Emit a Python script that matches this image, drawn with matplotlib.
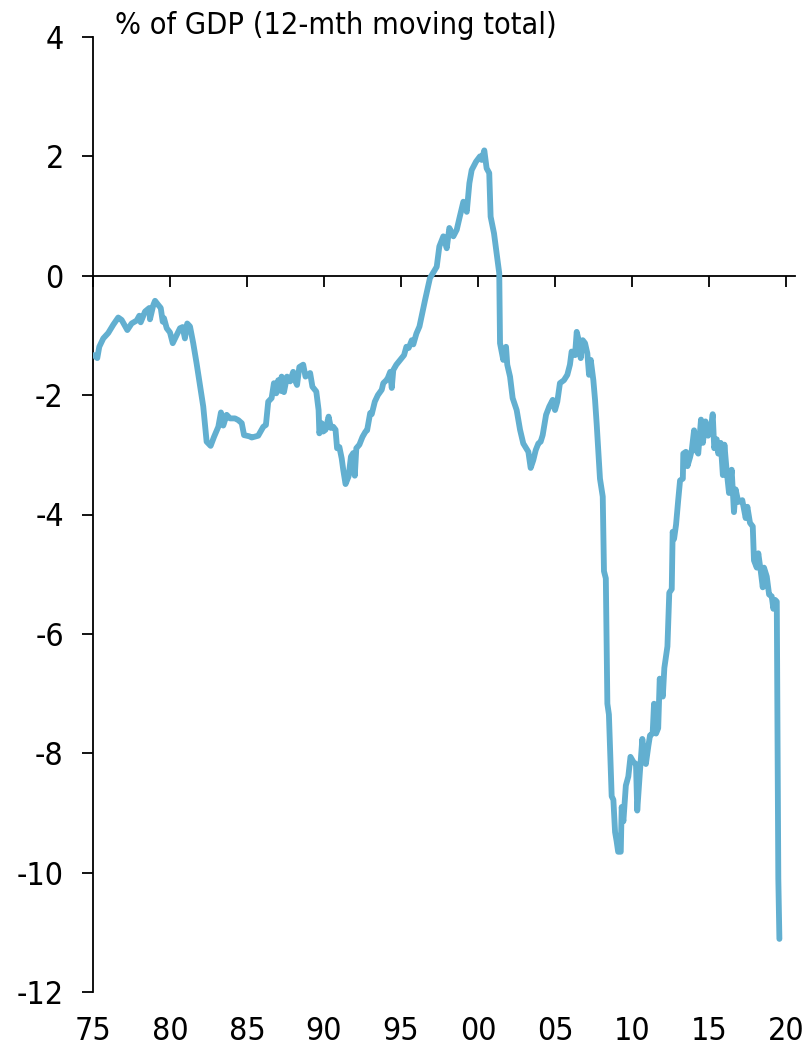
import matplotlib
matplotlib.use("Agg")
import matplotlib.pyplot as plt
import numpy as np

plt.rcParams['font.family'] = ['DejaVu Sans']
plt.rcParams['font.stretch'] = 'condensed'

# budget balance, % of GDP (12-mth moving total)
years = [
    1975.06, 1975.28, 1975.41, 1975.67, 1975.99, 1976.32, 1976.64, 1976.86, 1977.23, 1977.51,
    1977.84, 1978.01, 1978.10, 1978.38, 1978.66, 1978.70, 1978.92, 1979.03, 1979.24, 1979.40,
    1979.53, 1979.61, 1979.79, 1980.00, 1980.18, 1980.39, 1980.65, 1980.82, 1980.97, 1981.12,
    1981.30, 1981.51, 1981.73, 1981.99, 1982.16, 1982.38, 1982.64, 1982.86, 1983.14, 1983.31,
    1983.46, 1983.68, 1983.90, 1984.22, 1984.44, 1984.66, 1984.81, 1985.15, 1985.31, 1985.73,
    1986.06, 1986.23, 1986.38, 1986.60, 1986.75, 1986.90, 1987.03, 1987.20, 1987.25, 1987.40,
    1987.60, 1987.80, 1988.00, 1988.10, 1988.25, 1988.40, 1988.65, 1988.80, 1989.10, 1989.25,
    1989.50, 1989.65, 1989.70, 1989.85, 1989.95, 1990.10, 1990.30, 1990.45, 1990.60, 1990.75,
    1990.85, 1991.00, 1991.15, 1991.25, 1991.40, 1991.60, 1991.75, 1991.90, 1992.00, 1992.10,
    1992.30, 1992.50, 1992.70, 1992.80, 1993.00, 1993.10, 1993.30, 1993.50, 1993.75, 1993.85,
    1994.05, 1994.15, 1994.30, 1994.40, 1994.50, 1994.70, 1994.95, 1995.20, 1995.35, 1995.50,
    1995.70, 1995.80, 1996.00, 1996.20, 1996.56, 1996.88, 1997.32, 1997.49, 1997.75, 1997.97,
    1998.14, 1998.40, 1998.62, 1998.79, 1999.05, 1999.27, 1999.44, 1999.59, 1999.87, 2000.13,
    2000.24, 2000.41, 2000.56, 2000.73, 2000.82, 2001.04, 2001.21, 2001.38, 2001.43, 2001.64,
    2001.82, 2001.90, 2002.08, 2002.25, 2002.51, 2002.73, 2002.94, 2003.27, 2003.42, 2003.59,
    2003.75, 2003.92, 2004.07, 2004.20, 2004.42, 2004.63, 2004.85, 2005.00, 2005.15, 2005.32,
    2005.58, 2005.80, 2005.97, 2006.08, 2006.30, 2006.41, 2006.51, 2006.67, 2006.80, 2006.95,
    2007.10, 2007.21, 2007.32, 2007.49, 2007.60, 2007.71, 2007.92, 2008.10, 2008.18, 2008.30,
    2008.40, 2008.50, 2008.68, 2008.79, 2008.90, 2009.00, 2009.10, 2009.27, 2009.33, 2009.44,
    2009.60, 2009.76, 2009.90, 2010.10, 2010.26, 2010.34, 2010.50, 2010.67, 2010.80, 2010.90,
    2011.06, 2011.17, 2011.34, 2011.43, 2011.56, 2011.70, 2011.80, 2012.00, 2012.10, 2012.30,
    2012.42, 2012.58, 2012.64, 2012.73, 2012.86, 2013.00, 2013.12, 2013.30, 2013.33, 2013.50,
    2013.60, 2013.77, 2013.88, 2014.03, 2014.16, 2014.30, 2014.48, 2014.60, 2014.77, 2014.94,
    2015.10, 2015.24, 2015.34, 2015.50, 2015.60, 2015.76, 2015.90, 2016.00, 2016.15, 2016.30,
    2016.47, 2016.62, 2016.73, 2016.90, 2017.16, 2017.38, 2017.49, 2017.66, 2017.84, 2017.92,
    2018.10, 2018.20, 2018.36, 2018.49, 2018.57, 2018.75, 2018.90, 2019.07, 2019.18, 2019.29,
    2019.40, 2019.50, 2019.57,
]
balance = [
    -1.33, -1.38, -1.19, -1.05, -0.96, -0.82, -0.70, -0.74, -0.91, -0.80,
    -0.75, -0.67, -0.78, -0.60, -0.54, -0.73, -0.49, -0.42, -0.49, -0.54,
    -0.77, -0.71, -0.88, -0.95, -1.13, -1.02, -0.88, -0.86, -1.05, -0.80,
    -0.85, -1.13, -1.47, -1.91, -2.19, -2.78, -2.85, -2.70, -2.53, -2.29,
    -2.51, -2.33, -2.39, -2.39, -2.42, -2.47, -2.67, -2.69, -2.71, -2.68,
    -2.53, -2.50, -2.11, -2.05, -1.80, -1.97, -1.75, -1.93, -1.69, -1.95,
    -1.69, -1.77, -1.61, -1.74, -1.83, -1.53, -1.49, -1.69, -1.63, -1.86,
    -1.94, -2.25, -2.64, -2.47, -2.61, -2.58, -2.36, -2.55, -2.53, -2.58,
    -2.89, -2.87, -3.06, -3.25, -3.49, -3.36, -3.03, -2.97, -3.35, -2.89,
    -2.83, -2.70, -2.61, -2.59, -2.30, -2.32, -2.11, -2.00, -1.91, -1.80,
    -1.75, -1.71, -1.61, -1.88, -1.58, -1.49, -1.41, -1.33, -1.19, -1.21,
    -1.08, -1.15, -0.97, -0.85, -0.41, -0.04, 0.15, 0.49, 0.66, 0.46,
    0.80, 0.66, 0.77, 0.96, 1.24, 1.07, 1.55, 1.77, 1.91, 2.00,
    1.94, 2.10, 1.80, 1.72, 0.99, 0.71, 0.38, 0.04, -1.13, -1.41,
    -1.19, -1.49, -1.69, -2.05, -2.25, -2.58, -2.81, -2.95, -3.22, -3.09,
    -2.92, -2.81, -2.78, -2.67, -2.33, -2.19, -2.08, -2.25, -2.11, -1.80,
    -1.75, -1.66, -1.49, -1.27, -1.33, -0.94, -1.05, -1.38, -1.08, -1.13,
    -1.30, -1.66, -1.41, -1.75, -2.08, -2.50, -3.40, -3.70, -4.95, -5.07,
    -7.17, -7.35, -8.72, -8.78, -9.32, -9.47, -9.65, -9.65, -8.90, -9.14,
    -8.54, -8.39, -8.06, -8.15, -8.18, -8.96, -8.36, -7.76, -8.06, -8.18,
    -7.88, -7.70, -7.67, -7.17, -7.67, -7.58, -6.75, -7.05, -6.57, -6.21,
    -5.31, -5.25, -4.29, -4.41, -4.17, -3.76, -3.43, -3.40, -2.98, -2.95,
    -3.19, -3.04, -2.92, -2.59, -2.92, -2.98, -2.41, -2.80, -2.44, -2.68,
    -2.59, -2.32, -2.89, -2.74, -2.98, -2.80, -3.34, -2.83, -3.28, -3.64,
    -3.25, -3.96, -3.58, -3.79, -3.76, -4.06, -3.87, -4.14, -4.20, -4.77,
    -4.89, -4.65, -4.95, -5.22, -4.89, -5.04, -5.34, -5.37, -5.58, -5.43,
    -5.46, -10.10, -11.11,
]

xticks = [1975, 1980, 1985, 1990, 1995, 2000, 2005, 2010, 2015, 2020]
xlabels = ['75', '80', '85', '90', '95', '00', '05', '10', '15', '20']
yticks = [-12, -10, -8, -6, -4, -2, 0, 2, 4]

fig = plt.figure(figsize=(8.07, 10.5), dpi=100)
ax = fig.add_axes([0.1152, 0.0552, 0.974 - 0.1152, 0.9648 - 0.0552])

ax.plot(years, balance, color='#62afd0', lw=4.2, solid_joinstyle='round',
        solid_capstyle='round', zorder=3)

ax.set_xlim(1975, 2020)
ax.set_ylim(-12, 4)

for s in ['top', 'right']:
    ax.spines[s].set_visible(False)
ax.spines['left'].set_linewidth(1.3)
# x axis sits on the zero line, labels stay at the bottom
ax.spines['bottom'].set_position(('data', 0))
ax.spines['bottom'].set_linewidth(1.3)
ax.spines['bottom'].set_bounds(1975, 2020.6)
ax.spines['bottom'].set_clip_on(False)

ax.set_yticks(yticks)
ax.set_yticklabels([str(v) for v in yticks])
ax.tick_params(axis='y', direction='out', length=8, width=1.3, pad=13, labelsize=23)
ax.set_xticks(xticks)
ax.tick_params(axis='x', direction='out', length=8, width=1.3, labelbottom=False)

sec = ax.secondary_xaxis('bottom')
sec.set_xticks(xticks)
sec.set_xticklabels(xlabels)
sec.spines['bottom'].set_visible(False)
sec.tick_params(axis='x', length=0, pad=17, labelsize=23)

fig.text(115 / 807, 1 - 25 / 1050, '% of GDP (12-mth moving total)',
         fontsize=22, va='center', ha='left')

fig.savefig('out.png', dpi=100)
